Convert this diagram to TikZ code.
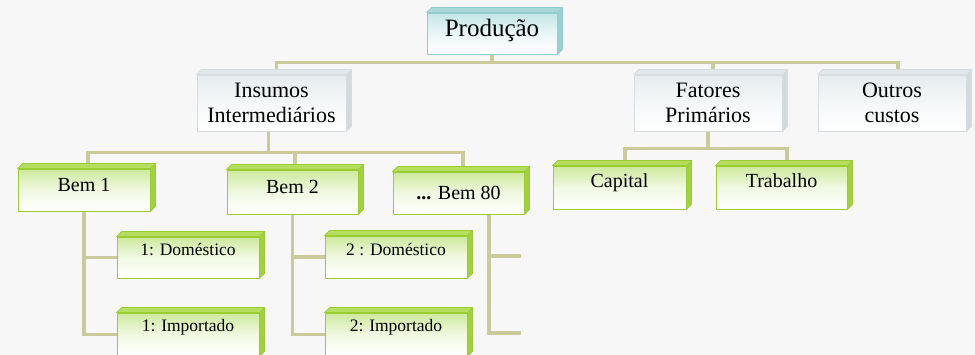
\documentclass[tikz,border=0pt]{standalone}
\usepackage{fontspec}
\setmainfont{Liberation Serif}
\usetikzlibrary{calc}
\pgfdeclarelayer{bg}
\pgfsetlayers{bg,main}
\definecolor{bgC}{HTML}{F7F7F7}
\definecolor{lineC}{HTML}{CACA9A}
\definecolor{gBorder}{HTML}{9ACD32}
\definecolor{gTop}{HTML}{B5DD5E}
\definecolor{gSide}{HTML}{A2D13F}
\definecolor{gFace}{HTML}{CDE99C}
\definecolor{tBorder}{HTML}{93CCCC}
\definecolor{tTop}{HTML}{AAD8D8}
\definecolor{tSide}{HTML}{9DCFCF}
\definecolor{tFace}{HTML}{C2E6E6}
\definecolor{sBorder}{HTML}{D6DDE0}
\definecolor{sTop}{HTML}{E2E8EA}
\definecolor{sSide}{HTML}{D2DADC}
\definecolor{sFace}{HTML}{E6ECEE}
\newcommand\mkthreed[4]{%
  \filldraw[fill=#2,draw=#4,line width=0.6pt] (#1.north west) -- ++(5,-5) -- ([shift={(5,-5)}]#1.north east) -- (#1.north east) -- cycle;
  \filldraw[fill=#3,draw=#4,line width=0.6pt] (#1.north east) -- ++(5,-5) -- ([shift={(5,-5)}]#1.south east) -- (#1.south east) -- cycle;
}
\tikzset{
  conn/.style={draw=lineC,line width=3.6pt},
  basebox/.style={rectangle,inner sep=0pt,line width=0.9pt,align=center},
  tealbox/.style={basebox,draw=tBorder,top color=tFace,bottom color=white,middle color=tFace!35!white,
     font=\fontsize{25}{28}\selectfont,text height=17pt,text depth=11pt},
  greybox/.style={basebox,draw=sBorder,top color=sFace,bottom color=white,middle color=sFace!40!white,
     font=\fontsize{22}{25}\selectfont},
  bigbox/.style={basebox,draw=gBorder,top color=gFace,bottom color=white,middle color=gFace!30!white,
     font=\fontsize{20}{24}\selectfont,text height=14pt,text depth=10pt},
  smallbox/.style={basebox,draw=gBorder,top color=gFace,bottom color=white,middle color=gFace!30!white,
     font=\fontsize{17.5}{21}\selectfont,text height=12pt,text depth=16pt,minimum width=142pt},
}
\begin{document}
\begin{tikzpicture}[x=1pt,y=-1pt]
\begin{pgfonlayer}{bg}
  \fill[bgC] (0,0) rectangle (975,355);
\end{pgfonlayer}
\useasboundingbox (0,0) rectangle (975,355);
\clip (0,0) rectangle (975,355);

% top level
\node[tealbox,minimum width=130pt,minimum height=41pt] (prod) at (492,33.5) {Produção};
\mkthreed{prod}{tTop}{tSide}{tBorder}

% second level
\node[greybox,minimum width=149pt,minimum height=56pt] (ins) at (271.5,103) {Insumos\\Intermediários};
\mkthreed{ins}{sTop}{sSide}{sBorder}
\node[greybox,minimum width=148pt,minimum height=56pt] (fat) at (708,103) {Fatores\\Primários};
\mkthreed{fat}{sTop}{sSide}{sBorder}
\node[greybox,minimum width=148pt,minimum height=56pt] (out) at (892,103) {Outros\\custos};
\mkthreed{out}{sTop}{sSide}{sBorder}

% third level
\node[bigbox,minimum width=132pt,minimum height=42pt] (bem1) at (84,190) {Bem 1};
\mkthreed{bem1}{gTop}{gSide}{gBorder}
\node[bigbox,minimum width=131pt,minimum height=44pt] (bem2) at (292.5,192) {Bem 2};
\mkthreed{bem2}{gTop}{gSide}{gBorder}
\node[bigbox,minimum width=131pt,minimum height=42pt,text depth=1pt] (bem80) at (458.5,193) {{\bfseries ...} Bem 80};
\mkthreed{bem80}{gTop}{gSide}{gBorder}
\node[bigbox,minimum width=133pt,minimum height=43pt,text depth=13pt] (cap) at (619.5,187.5) {Capital};
\mkthreed{cap}{gTop}{gSide}{gBorder}
\node[bigbox,minimum width=131pt,minimum height=43pt,text depth=13pt] (trab) at (781.5,187.5) {Trabalho};
\mkthreed{trab}{gTop}{gSide}{gBorder}

% fourth level
\node[smallbox,minimum height=41pt] (dom1) at (188,257.5) {1: Doméstico};
\mkthreed{dom1}{gTop}{gSide}{gBorder}
\node[smallbox,minimum height=43pt,text depth=18pt] (imp1) at (188,334.5) {1: Importado};
\mkthreed{imp1}{gTop}{gSide}{gBorder}
\node[smallbox,minimum height=42pt,text depth=14pt] (dom2) at (396,257) {2 : Doméstico};
\mkthreed{dom2}{gTop}{gSide}{gBorder}
\node[smallbox,minimum height=43pt,text depth=18pt] (imp2) at (396,334.5) {2: Importado};
\mkthreed{imp2}{gTop}{gSide}{gBorder}

% connectors
\begin{pgfonlayer}{bg}
  \coordinate (b1) at ([yshift=-8]prod.south);
  \coordinate (insT) at ([xshift=5]ins.north);
  \coordinate (fatT) at ([xshift=5]fat.north);
  \coordinate (outT) at ([xshift=6]out.north);
  \draw[conn] (prod.south) -- (b1);
  \draw[conn] (insT) |- (b1) -| (outT);
  \draw[conn] (fatT |- b1) -- (fatT);

  \coordinate (b2) at ([yshift=-21]ins.south);
  \coordinate (bem1T) at ([xshift=4]bem1.north);
  \coordinate (bem2T) at ([xshift=2.5]bem2.north);
  \coordinate (bem80T) at ([xshift=4.5]bem80.north);
  \draw[conn] ([xshift=-3]ins.south) -- ([xshift=-3]b2);
  \draw[conn] (bem1T) |- (b2) -| (bem80T);
  \draw[conn] (bem2T |- b2) -- (bem2T);

  \draw[conn] (bem1.south) |- (dom1.west);
  \draw[conn] (bem1.south) |- (imp1.west);
  \draw[conn] (bem2.south) |- (dom2.west);
  \draw[conn] (bem2.south) |- (imp2.west);

  \coordinate (b80) at ([xshift=30.5]bem80.south);
  \coordinate (e1) at (521,256);
  \coordinate (e2) at (521,333);
  \draw[conn] (b80) |- (e1);
  \draw[conn] (b80) |- (e2);

  \coordinate (b3) at ([yshift=-17]fat.south);
  \coordinate (capT) at ([xshift=5.5]cap.north);
  \coordinate (trabT) at ([xshift=5.5]trab.north);
  \draw[conn] (fat.south) -- (b3);
  \draw[conn] (capT) |- (b3) -| (trabT);
\end{pgfonlayer}
\end{tikzpicture}
\end{document}
